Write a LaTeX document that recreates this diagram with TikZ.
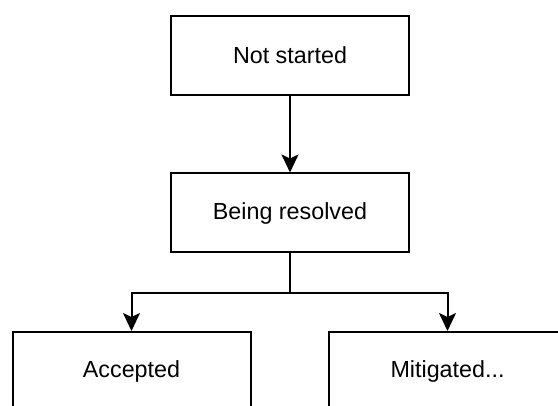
\documentclass[tikz,border=0pt]{standalone}
\usepackage{fontspec}
\setmainfont{Liberation Sans}
\usetikzlibrary{arrows.meta}
\tikzset{
    etat/.style={draw, line width=2pt, minimum width=238pt, minimum height=79pt,
        inner sep=0pt, font=\fontsize{23.3}{28}\selectfont},
    fleche/.style={line width=2pt, -{Stealth[length=18pt, width=17pt, inset=4pt]}}
}
\begin{document}
\begin{tikzpicture}[x=1pt, y=-1pt]
            \useasboundingbox (0,0) rectangle (558,406);
            \clip (0,0) rectangle (558,406);
            % Les boites
            \node[etat] (nondemarre) at (290,55.5) {Not started};
            \node[etat] (encours) at (290,213) {Being resolved};
            \node[etat] (accepte) at (131.5,371.5) {Accepted};
            \node[etat] (attenue) at (447.5,371.5) {Mitigated...};
            % Les fleches
            \draw[fleche] (nondemarre) -- (encours);
            \draw[fleche] (encours.south) -- ++(0,40) -| (accepte.north);
            \draw[fleche] (encours.south) -- ++(0,40) -| (attenue.north);
        \end{tikzpicture}
\end{document}
